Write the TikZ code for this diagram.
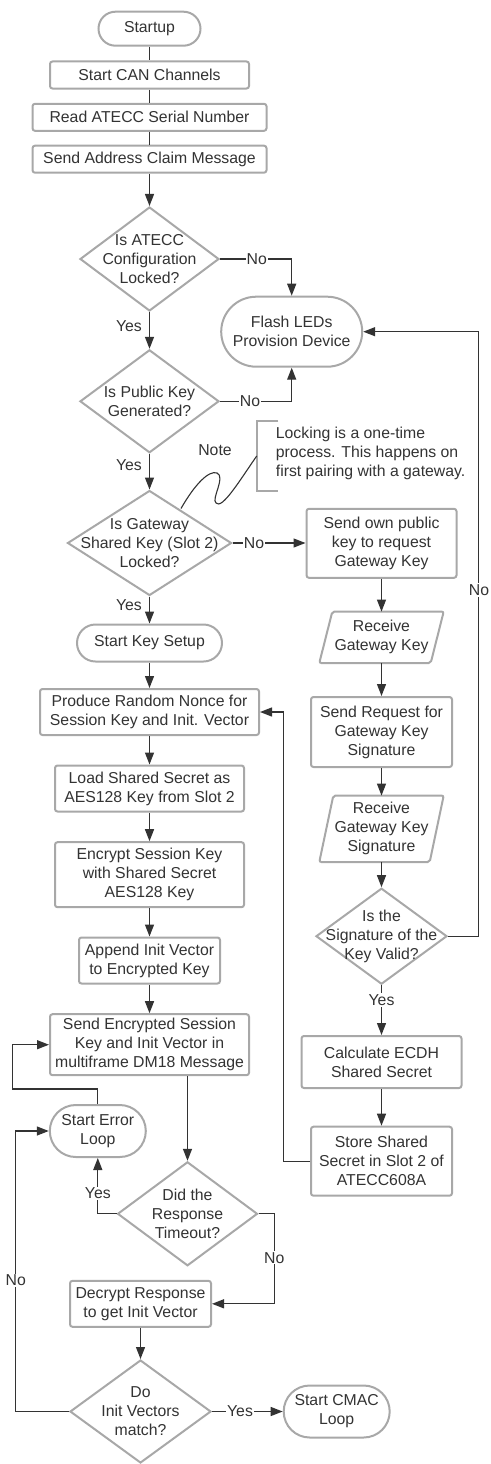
\documentclass[tikz,border=0pt]{standalone}
\usepackage{fontspec}
\setmainfont{Liberation Sans}
\usetikzlibrary{arrows.meta,shapes.geometric,calc}
\definecolor{bordc}{RGB}{168,168,168}
\definecolor{txtc}{RGB}{51,51,51}
\definecolor{linec}{RGB}{51,51,51}
\begin{document}
\begin{tikzpicture}[x=1pt,y=-1pt,
  every node/.style={font=\fontsize{15.8}{19}\selectfont, text=txtc},
  box/.style={rectangle, draw=bordc, line width=2pt, rounded corners=2.5pt, align=center, inner sep=0pt, fill=white},
  dia/.style={diamond, draw=bordc, line width=2pt, inner sep=0pt, fill=white},
  dtext/.style={align=center, inner sep=0pt},
  ptext/.style={rectangle, align=center, inner sep=0pt},
  pbord/.style={draw=bordc, line width=2pt, rounded corners=2pt, fill=white},
  conn/.style={draw=linec, line width=1.3pt},
  arr/.style={conn, -{Triangle[length=12pt,width=9pt]}},
  lbl/.style={fill=white, inner sep=1pt},
]
\useasboundingbox (0,0) rectangle (490,1464);

% ---------- left column ----------
\node[box, minimum width=102pt, minimum height=34pt, rounded corners=17pt] (start) at (149.5,28.7) {Startup};
\node[box, minimum width=199pt, minimum height=27pt] (can) at (149.5,75) {Start CAN Channels};
\node[box, minimum width=234pt, minimum height=27pt] (read) at (149.5,117.3) {Read ATECC Serial Number};
\node[box, minimum width=234pt, minimum height=27pt] (addr) at (149.5,159.2) {Send Address Claim Message};

\node[dia, minimum width=139pt, minimum height=104pt] (d1) at (149.5,259) {};
\node[dtext] (d1t) at (d1) {Is ATECC\\Configuration\\Locked?};

\node[box, minimum width=141pt, minimum height=70pt, rounded corners=35pt] (flash) at (291.7,331.7) {Flash LEDs\\Provision Device};

\node[dia, minimum width=139pt, minimum height=103pt] (d2) at (149.5,401.3) {};
\node[dtext] (d2t) at (d2) {Is Public Key\\Generated?};

\node[dia, minimum width=164pt, minimum height=105pt] (d3) at (149.5,543) {};
\node[dtext] (d3t) at (d3) {Is Gateway\\Shared Key (Slot 2)\\Locked?};

\node[box, minimum width=145pt, minimum height=37pt, rounded corners=18.5pt] (ksetup) at (149.5,643) {Start Key Setup};
\node[box, minimum width=219pt, minimum height=46pt] (produce) at (149.5,712) {Produce Random Nonce for\\Session Key and Init. Vector};
\node[box, minimum width=189pt, minimum height=46pt] (load) at (149.5,788.5) {Load Shared Secret as\\AES128 Key from Slot 2};
\node[box, minimum width=189pt, minimum height=65pt] (encrypt) at (149.5,874.7) {Encrypt Session Key\\with Shared Secret\\AES128 Key};
\node[box, minimum width=141pt, minimum height=46pt] (append) at (149.5,960.5) {Append Init Vector\\to Encrypted Key};
\node[box, minimum width=199pt, minimum height=61pt] (sendenc) at (149.5,1044.7) {Send Encrypted Session\\Key and Init Vector in\\multiframe DM18 Message};

\node[box, minimum width=96pt, minimum height=52pt, rounded corners=26pt] (sel) at (97.8,1131) {Start Error\\Loop};

\node[dia, minimum width=140pt, minimum height=104pt] (d5) at (187.5,1213.8) {};
\node[dtext] (d5t) at (d5) {Did the\\Response\\Timeout?};

\node[box, minimum width=141pt, minimum height=46pt] (decrypt) at (140.5,1303.8) {Decrypt Response\\to get Init Vector};

\node[dia, minimum width=141pt, minimum height=103pt] (d6) at (140.5,1411.5) {};
\node[dtext] (d6t) at (d6) {Do\\Init Vectors\\match?};

\node[box, minimum width=106pt, minimum height=52pt, rounded corners=26pt] (cmac) at (336.7,1411.5) {Start CMAC\\Loop};

% ---------- right column ----------
\node[box, minimum width=150pt, minimum height=69pt] (spk) at (381.5,543.3) {Send own public\\key to request\\Gateway Key};

\node[ptext, minimum width=124pt, minimum height=51pt] (rgk) at (381.5,637.3) {};
\draw[pbord] ($(rgk.north west)+(13,0)$) -- (rgk.north east) -- ($(rgk.south east)+(-13,0)$) -- (rgk.south west) -- cycle;
\node[dtext] (rgkt) at (rgk) {Receive\\Gateway Key};

\node[box, minimum width=141pt, minimum height=70pt] (sreq) at (381.5,732) {Send Request for\\Gateway Key\\Signature};

\node[ptext, minimum width=124pt, minimum height=66pt] (rsig) at (381.5,828.8) {};
\draw[pbord] ($(rsig.north west)+(14,0)$) -- (rsig.north east) -- ($(rsig.south east)+(-14,0)$) -- (rsig.south west) -- cycle;
\node[dtext] (rsigt) at (rsig) {Receive\\Gateway Key\\Signature};

\node[dia, minimum width=131pt, minimum height=96pt] (d4) at (381.5,936.2) {};
\node[dtext] (d4t) at (d4) {Is the\\Signature of the\\Key Valid?};

\node[box, minimum width=160pt, minimum height=52pt] (calc) at (381.5,1062) {Calculate ECDH\\Shared Secret};
\node[box, minimum width=141pt, minimum height=69pt] (store) at (381.5,1161.2) {Store Shared\\Secret in Slot 2 of\\ATECC608A};

% ---------- note ----------
\node (note) at (215,450) {Note};
\draw[draw=bordc, line width=2pt] (278.3,420.7) -- (256.7,420.7) -- (256.7,491) -- (278.3,491);
\node[anchor=west, align=left, inner sep=0pt] (notetext) at (275.7,453.5) {Locking is a one-time\\process. This happens on\\first pairing with a gateway.};
\draw[conn, line width=1.1pt] (181,508.5) .. controls (195,484) and (209,470) .. (217,473)
  .. controls (226,477) and (211,499) .. (216,503)
  .. controls (222,510) and (240,480) .. (256.7,456);

% ---------- connectors ----------
\draw[conn] (start) -- (can);
\draw[conn] (can) -- (read);
\draw[conn] (read) -- (addr);
\draw[arr] (addr) -- (d1);
\draw[arr] (d1.east) -| (flash.north);
\draw[arr] (d1) -- (d2);
\draw[arr] (d2.east) -| (flash.south);
\draw[arr] (d2) -- (d3);
\draw[arr] (d3.east) -- (d3.east -| spk.west);
\draw[arr] (d3) -- (ksetup);
\draw[arr] (ksetup) -- (produce);
\draw[arr] (produce) -- (load);
\draw[arr] (load) -- (encrypt);
\draw[arr] (encrypt) -- (append);
\draw[arr] (append) -- (sendenc);
\draw[arr] (spk) -- (rgk);
\draw[arr] (rgk) -- (sreq);
\draw[arr] (sreq) -- (rsig);
\draw[arr] (rsig) -- (d4);
\draw[arr] (d4.east) -- ++(30.7,0) |- (flash.east);
\draw[arr] (d4) -- (calc);
\draw[arr] (calc) -- (store);
\draw[arr] (store.west) -- ++(-26.7,0) |- (produce.east);
\draw[arr] (sendenc.south -| d5.north) -- (d5.north);
\draw[arr] (d5.west) -| (sel.south);
\draw[arr] (sel.north) -- ++(0,-15) -| ($(sendenc.west)+(-36.7,0)$) -- (sendenc.west);
\draw[arr] (d5.east) -- ++(16,0) |- (decrypt.east);
\draw[arr] (decrypt) -- (d6);
\draw[arr] (d6.west) -- ++(-53.3,0) |- (sel.west);
\draw[arr] (d6.east) -- (d6.east -| cmac.west);

% ---------- labels ----------
\node[lbl] (l1) at (256.7,259) {No};
\node[lbl] (l2) at (250,401.3) {No};
\node[lbl] (l3) at (254,543) {No};
\node[lbl] (l4) at (479,590) {No};
\node[lbl] (l5) at (129,326) {Yes};
\node[lbl] (l6) at (129,465) {Yes};
\node[lbl] (l7) at (129,605) {Yes};
\node[lbl] (l8) at (381.5,1000) {Yes};
\node[lbl] (l9) at (97.8,1193) {Yes};
\node[lbl] (l10) at (274.3,1257.7) {No};
\node[lbl] (l11) at (15.7,1280) {No};
\node[lbl] (l12) at (240,1411.5) {Yes};
\end{tikzpicture}
\end{document}
